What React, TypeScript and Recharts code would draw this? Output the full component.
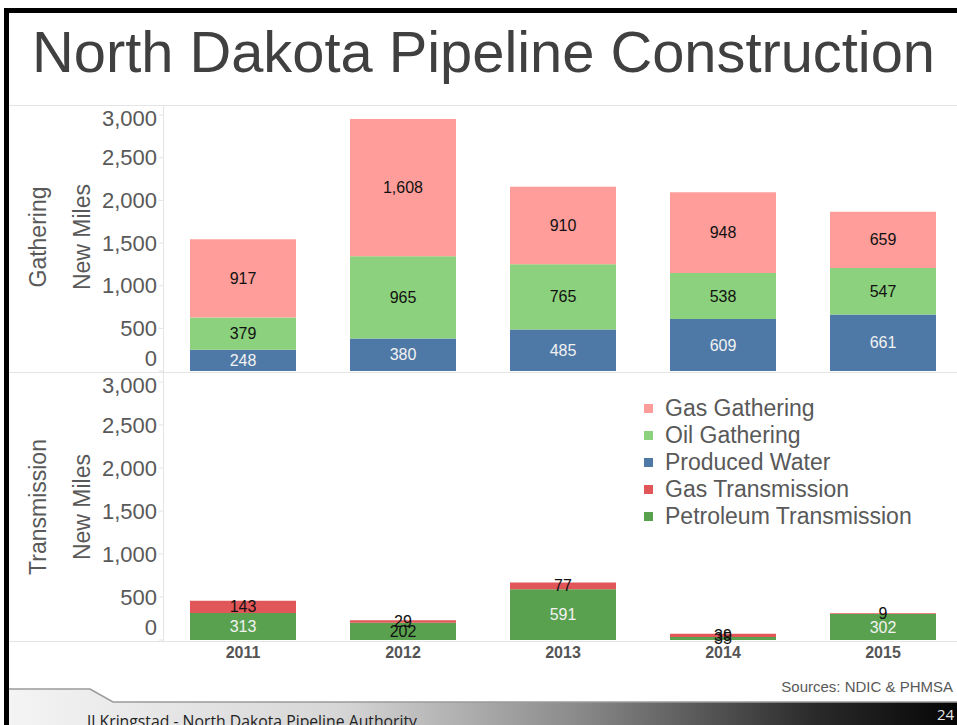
import React from 'react'
import { BarChart, Bar, XAxis, YAxis, LabelList } from 'recharts'

// chart values
const years = ['2011', '2012', '2013', '2014', '2015']
const gasGathering = [917, 1608, 910, 948, 659]
const oilGathering = [379, 965, 765, 538, 547]
const producedWater = [248, 380, 485, 609, 661]
const gasTransmission = [143, 29, 77, 39, 9]
const petroleumTransmission = [313, 202, 591, 35, 302]
const yTicks = [0, 500, 1000, 1500, 2000, 2500, 3000]

const COLORS = {
  gasGathering: '#FF9D9A',
  oilGathering: '#8CD17D',
  producedWater: '#4E79A7',
  gasTransmission: '#E15759',
  petroleumTransmission: '#59A14F',
}

const legendItems = [
  { name: 'Gas Gathering', color: COLORS.gasGathering },
  { name: 'Oil Gathering', color: COLORS.oilGathering },
  { name: 'Produced Water', color: COLORS.producedWater },
  { name: 'Gas Transmission', color: COLORS.gasTransmission },
  { name: 'Petroleum Transmission', color: COLORS.petroleumTransmission },
]

const data = years.map((year, i) => ({
  year,
  gasGathering: gasGathering[i],
  oilGathering: oilGathering[i],
  producedWater: producedWater[i],
  gasTransmission: gasTransmission[i],
  petroleumTransmission: petroleumTransmission[i],
}))

const FONT = "'Liberation Sans', Arial, sans-serif"
const TEXT = '#595959'
const RULE = '#e4e4e4'

// Tableau pulls the end labels inside the pane
const YTick = (props: any) => {
  const { x, y, payload } = props
  let dy = 0
  if (payload.value === 0) dy = -13
  if (payload.value === 3000) dy = 3
  return (
    <text x={x} y={y + dy} textAnchor="end" dominantBaseline="central"
      fontFamily={FONT} fontSize={22} fill={TEXT}>
      {payload.value.toLocaleString('en-US')}
    </text>
  )
}

const makeLabel = (colorFor: (v: number) => string) => (props: any) => {
  const { x, y, width, height, value } = props
  return (
    <text x={x + width / 2} y={y + height / 2} textAnchor="middle" dominantBaseline="central"
      fontFamily={FONT} fontSize={16} fill={colorFor(value)}>
      {Number(value).toLocaleString('en-US')}
    </text>
  )
}

const dark = () => '#111'
const light = () => '#f2f2f2'
const petroleumColor = (v: number) => (v >= 250 ? '#f2f2f2' : '#111')

const LegendBox = () => (
  <div style={{ fontFamily: FONT, fontSize: 23, color: TEXT, lineHeight: '27px' }}>
    {legendItems.map(item => (
      <div key={item.name} style={{ display: 'flex', alignItems: 'center', height: 27 }}>
        <span style={{ width: 9, height: 9, background: item.color, marginRight: 12, marginLeft: 4 }} />
        <span>{item.name}</span>
      </div>
    ))}
  </div>
)

const SideTitle = ({ cx, cy, text }: { cx: number; cy: number; text: string }) => (
  <text x={cx} y={cy} transform={`rotate(-90 ${cx} ${cy})`} textAnchor="middle"
    dominantBaseline="central" fontFamily={FONT} fontSize={23} fill={TEXT}>
    {text}
  </text>
)

export default function App() {
  return (
    <div style={{ position: 'fixed', left: 0, top: 0, width: 957, height: 725, overflow: 'hidden', background: '#fff' }}>
      {/* slide decoration */}
      <svg width={957} height={725} style={{ position: 'absolute', left: 0, top: 0 }}>
        <defs>
          <linearGradient id="footer" x1="0" y1="0" x2="1" y2="0">
            <stop offset="0%" stopColor="#f4f4f4" />
            <stop offset="35%" stopColor="#d6d6d6" />
            <stop offset="60%" stopColor="#8a8a8a" />
            <stop offset="85%" stopColor="#2a2a2a" />
            <stop offset="100%" stopColor="#050505" />
          </linearGradient>
        </defs>
        <rect x={4} y={8} width={953} height={5} fill="#000" />
        <rect x={4} y={8} width={5} height={717} fill="#000" />
        <text x={32} y={72} fontFamily="'Liberation Sans Narrow', 'Liberation Sans', Arial, sans-serif"
          fontSize={58} fill="#404040" textLength={903} lengthAdjust="spacingAndGlyphs">
          North Dakota Pipeline Construction
        </text>
        <line x1={9} y1={105.5} x2={957} y2={105.5} stroke={RULE} />
        <line x1={9} y1={372.5} x2={957} y2={372.5} stroke={RULE} />
        <line x1={9} y1={641.5} x2={957} y2={641.5} stroke={RULE} />
        <line x1={163.5} y1={106} x2={163.5} y2={641} stroke={RULE} />
        <SideTitle cx={38} cy={237} text="Gathering" />
        <SideTitle cx={82} cy={237} text="New Miles" />
        <SideTitle cx={38} cy={507} text="Transmission" />
        <SideTitle cx={82} cy={507} text="New Miles" />
        <text x={953} y={686} textAnchor="end" dominantBaseline="central" fontFamily={FONT}
          fontSize={15} fill={TEXT}>
          Sources: NDIC &amp; PHMSA
        </text>
        <polygon points="9,689 90,689 113,702 957,702 957,725 9,725" fill="url(#footer)" />
        <polyline points="9,689 90,689 113,702 957,702" fill="none" stroke="#9a9a9a" strokeWidth={1.5} />
        <text x={87} y={727} fontFamily="'Open Sans', 'Noto Sans', sans-serif" fontSize={17} fill="#222"
          textLength={330} lengthAdjust="spacingAndGlyphs">
          JJ Kringstad - North Dakota Pipeline Authority
        </text>
        <text x={937} y={720} fontFamily="'Open Sans', 'Noto Sans', sans-serif" fontSize={15} fill="#e6e6e6">
          24
        </text>
      </svg>

      {/* gathering pane */}
      <div style={{ position: 'absolute', left: 0, top: 105 }}>
        <BarChart width={963} height={267} data={data} margin={{ top: 10, right: 0, bottom: 1, left: 0 }} barSize={106}>
          <XAxis dataKey="year" hide />
          <YAxis width={163} domain={[0, 3000]} ticks={yTicks} interval={0} axisLine={false}
            tickLine={{ stroke: RULE }} tickSize={4} tickMargin={2} tick={<YTick />} />
          <Bar dataKey="producedWater" stackId="g" fill={COLORS.producedWater} isAnimationActive={false}>
            <LabelList dataKey="producedWater" content={makeLabel(light)} />
          </Bar>
          <Bar dataKey="oilGathering" stackId="g" fill={COLORS.oilGathering} isAnimationActive={false}>
            <LabelList dataKey="oilGathering" content={makeLabel(dark)} />
          </Bar>
          <Bar dataKey="gasGathering" stackId="g" fill={COLORS.gasGathering} isAnimationActive={false}>
            <LabelList dataKey="gasGathering" content={makeLabel(dark)} />
          </Bar>
        </BarChart>
      </div>

      {/* transmission pane */}
      <div style={{ position: 'absolute', left: 0, top: 372 }}>
        <BarChart width={963} height={298} data={data} margin={{ top: 10, right: 0, bottom: 0, left: 0 }} barSize={106}>
          <XAxis dataKey="year" height={30} axisLine={false} tickLine={false} tickSize={6} tickMargin={1}
            tick={{ fontFamily: FONT, fontSize: 16, fontWeight: 'bold', fill: '#555' }} />
          <YAxis width={163} domain={[0, 3000]} ticks={yTicks} interval={0} axisLine={false}
            tickLine={{ stroke: RULE }} tickSize={4} tickMargin={2} tick={<YTick />} />
          <Bar dataKey="petroleumTransmission" stackId="t" fill={COLORS.petroleumTransmission} isAnimationActive={false}>
            <LabelList dataKey="petroleumTransmission" content={makeLabel(petroleumColor)} />
          </Bar>
          <Bar dataKey="gasTransmission" stackId="t" fill={COLORS.gasTransmission} isAnimationActive={false}>
            <LabelList dataKey="gasTransmission" content={makeLabel(dark)} />
          </Bar>
        </BarChart>
      </div>

      <div style={{ position: 'absolute', left: 640, top: 395 }}>
        <LegendBox />
      </div>
    </div>
  )
}
